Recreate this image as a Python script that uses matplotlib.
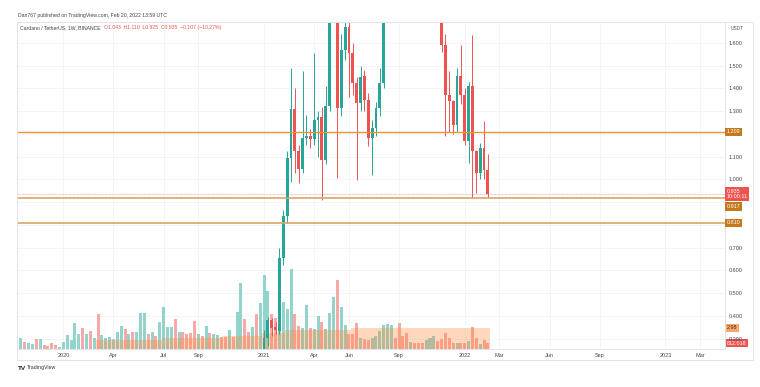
#%% Import Libraries
import numpy as np
import pandas as pd
import matplotlib
matplotlib.use("Agg")
import matplotlib.pyplot as plt
from matplotlib.patches import Rectangle

plt.rcParams['font.family'] = ['Liberation Sans', 'DejaVu Sans']

#%% Data (weekly ADA/USDT, Binance)
start = '2019-10-21'          # first weekly bar shown
candle_start = '2021-01-04'   # first candle that reaches the visible price range

# candles from 2021-01-04 to 2022-02-14
opens = [0.180, 0.303, 0.382, 0.352, 0.334, 0.655, 0.840, 1.094, 1.311, 1.124,
         1.047, 1.182, 1.190, 1.178, 1.260, 1.275, 1.087, 1.324, 1.780, 2.050,
         1.314, 1.569, 1.672, 1.555, 1.424, 1.336, 1.455, 1.349, 1.182, 1.226,
         1.314, 1.424, 2.100, 2.500, 2.800, 2.780, 2.400, 2.350, 2.150, 2.250,
         2.200, 2.170, 2.000, 2.020, 2.050, 2.120, 1.800, 1.593, 1.373, 1.344,
         1.240, 1.455, 1.372, 1.169, 1.410, 1.125, 1.029, 1.139, 1.043]
highs = [0.340, 0.395, 0.390, 0.375, 0.699, 0.866, 1.125, 1.490, 1.400, 1.150,
         1.476, 1.283, 1.220, 1.556, 1.300, 1.320, 1.410, 1.820, 2.300, 2.470,
         1.640, 1.720, 1.700, 1.600, 1.450, 1.500, 1.480, 1.380, 1.260, 1.340,
         1.490, 2.200, 2.600, 2.950, 3.100, 3.050, 2.500, 2.450, 2.300, 2.300,
         2.250, 2.200, 2.100, 2.100, 2.300, 2.150, 1.850, 1.640, 1.476, 1.350,
         1.490, 1.593, 1.400, 1.430, 1.636, 1.130, 1.160, 1.257, 1.110]
lows = [0.170, 0.270, 0.310, 0.320, 0.320, 0.624, 0.810, 0.990, 1.030, 0.985,
        1.030, 1.150, 1.140, 1.150, 1.100, 0.911, 1.070, 1.300, 1.720, 1.006,
        1.280, 1.527, 1.364, 1.373, 0.998, 1.300, 1.300, 1.147, 1.020, 1.190,
        1.280, 1.400, 1.950, 2.450, 2.550, 1.950, 2.200, 1.950, 2.050, 2.100,
        2.100, 1.950, 1.900, 1.950, 1.950, 1.750, 1.560, 1.190, 1.210, 1.200,
        1.210, 1.330, 1.152, 1.073, 0.920, 0.940, 1.000, 1.000, 0.925]
closes = [0.303, 0.382, 0.347, 0.338, 0.655, 0.840, 1.094, 1.311, 1.124, 1.047,
          1.182, 1.190, 1.178, 1.260, 1.275, 1.087, 1.324, 1.780, 2.050, 1.314,
          1.569, 1.672, 1.555, 1.424, 1.336, 1.452, 1.349, 1.182, 1.226, 1.314,
          1.424, 2.100, 2.500, 2.800, 2.780, 2.400, 2.350, 2.150, 2.250, 2.200,
          2.170, 2.000, 2.020, 2.050, 2.120, 1.800, 1.593, 1.373, 1.344, 1.240,
          1.455, 1.372, 1.169, 1.410, 1.125, 1.029, 1.139, 1.042, 0.935]

# weekly volume (millions ADA), 2019-10-21 .. 2022-02-14
volume = [1580, 980, 840, 740, 1440, 1440, 560, 460, 800, 600,
          280, 980, 1920, 1260, 3600, 2140, 2900, 2060, 2520, 1580,
          4860, 1960, 1500, 1720, 1440, 2380, 3220, 2760, 2140, 2380,
          2380, 5080, 5080, 2060, 2420, 1820, 3780, 5920, 3080, 3080,
          4160, 2380, 2380, 2140, 2240, 3920, 2100, 1820, 3220, 2200,
          2140, 1960, 1680, 1680, 2620, 1720, 5180, 9200, 4160, 2420,
          3080, 4860, 6400, 10320, 8120, 4900, 4380, 4200, 6620, 5640,
          11240, 4860, 3220, 2980, 6160, 2980, 2760, 4620, 3820, 2760,
          5000, 7280, 9620, 5880, 3320, 2060, 2060, 3680, 1580, 1360,
          1220, 1580, 1820, 2520, 3360, 3460, 3360, 1580, 3680, 1820,
          2280, 980, 880, 880, 880, 1260, 1580, 1820, 1120, 1400,
          2170, 1540, 880, 880, 880, 880, 1120, 3120, 1540, 740,
          1220, 812]
# up/down colour of the volume bars before the first visible candle
pre_dir = "uduududddd" "uuuuuududu" "duuuuuudud" "uuududuuuu" \
          "duddddudud" "uudduduudd" "udu"

# orange volume overlay (millions), from 2020-03-09 on
overlay_start = '2020-03-09'
overlay = [1250, 1250, 1250, 1250, 1250, 1250, 1250, 1250, 1250, 1250,
           1250, 1250, 1250, 1250, 1250, 1250, 1250, 1500, 1500, 1500,
           1500, 1500, 1500, 1500, 1500, 1500, 1500, 1500, 1500, 1500,
           1500, 1500, 1500, 1850, 1850, 1850, 1850, 1850, 1850, 1850,
           1850, 1850, 1850, 2250, 2250, 2250, 2250, 2250, 2250, 2700,
           2700, 2700, 2700, 2700, 2700, 2700, 2700, 2700, 2700, 2700,
           2700, 2700, 2700, 2700, 2700, 2700, 2980, 2980, 2980, 2980,
           2980, 2980, 2980, 2980, 2980, 2980, 2980, 2980, 2980, 2980,
           2980, 2980, 2980, 2980, 2980, 2980, 2980, 2980, 2980, 2980,
           2980, 2980, 2980, 2980, 2980, 2980, 2980, 2980, 2980, 2980,
           2980, 2980]

levels = [1.209, 0.917, 0.810]
last_price = 0.935

tick_dates = ['2020-01-06', '2020-04-06', '2020-07-06', '2020-09-07', '2021-01-04',
              '2021-04-05', '2021-06-07', '2021-09-06', '2022-01-03', '2022-03-07',
              '2022-06-06', '2022-09-05', '2023-01-02', '2023-03-06']
tick_labels = ['2020', 'Apr', 'Jul', 'Sep', '2021', 'Apr', 'Jun', 'Sep', '2022', 'Mar',
               'Jun', 'Sep', '2023', 'Mar']
price_ticks = [0.3, 0.4, 0.5, 0.6, 0.7, 1.0, 1.1, 1.3, 1.4, 1.5, 1.6]
grid_prices = [0.3, 0.4, 0.5, 0.6, 0.7, 0.8, 0.9, 1.0, 1.1, 1.2, 1.3, 1.4, 1.5, 1.6]

#%% helpers
t0 = pd.Timestamp(start)
def week_idx(d):
    return (pd.Timestamp(d) - t0).days / 7

UP, DOWN = '#26a69a', '#ef5350'
UP_VOL, DOWN_VOL = '#92d3cc', '#f7a9a7'

k0 = int(week_idx(candle_start))
xc = k0 + np.arange(len(closes))
o, h, l, c = map(np.array, (opens, highs, lows, closes))
c_up = c >= o
up_all = [ch == 'u' for ch in pre_dir] + list(c_up)
xv = np.arange(len(volume))

#%% figure
fig = plt.figure(figsize=(7.6, 3.87), dpi=100)
W, H = 760, 387
rect = [17 / W, 1 - 349 / H, (724.5 - 17) / W, (349 - 21.7) / H]
ax_bg = fig.add_axes(rect)
ax_vol = fig.add_axes(rect, sharex=ax_bg)
ax = fig.add_axes(rect, sharex=ax_bg)
for a in (ax_vol, ax):
    a.patch.set_visible(False)

ylo, yhi = 0.2549, 1.6936
ax_bg.set_ylim(ylo, yhi)
ax.set_ylim(ylo, yhi)
ax_vol.set_ylim(0, 45800)
ax.set_xlim(-1.0, 182.3)

# grid
tick_pos = [week_idx(d) for d in tick_dates]
for p in grid_prices:
    ax_bg.axhline(p, color='#f0f3fa', lw=0.6, zorder=0)
for t in tick_pos:
    ax_bg.axvline(t, color='#f0f3fa', lw=0.6, zorder=0)

# volume + overlay
ax_vol.bar(xv, volume, width=0.78, color=[UP_VOL if u else DOWN_VOL for u in up_all],
           linewidth=0, zorder=1)
xo = week_idx(overlay_start) + np.arange(len(overlay))
ax_vol.bar(xo, overlay, width=1.0, color='#ff8a3a', alpha=0.33, linewidth=0, zorder=2)

# candles
cols = [UP if u else DOWN for u in c_up]
ax.vlines(xc, l, h, colors=cols, lw=0.7, zorder=3)
ax.bar(xc, np.maximum(np.abs(c - o), 0.004), bottom=np.minimum(o, c), width=0.74,
       color=cols, linewidth=0, zorder=4)

# horizontal levels
ax.axhline(levels[0], color='#e8923a', lw=1.0, zorder=5)
for lv in levels[1:]:
    ax.axhline(lv, color='#d8a764', lw=1.2, zorder=5)
ax.axhline(last_price, color=DOWN, lw=0.5, ls=(0, (1, 1)), alpha=0.7, zorder=5)

# axes styling
for a in (ax_bg, ax_vol):
    a.tick_params(left=False, right=False, bottom=False, top=False,
                  labelleft=False, labelbottom=False)
    for s in a.spines.values():
        s.set_visible(False)
ax.spines['top'].set_visible(False)
ax.spines['left'].set_visible(False)
for s in ('right', 'bottom'):
    ax.spines[s].set_color('#e0e3eb')
    ax.spines[s].set_linewidth(0.7)

ax.set_xticks(tick_pos)
ax.set_xticklabels(tick_labels)
ax.tick_params(axis='x', length=0, pad=2.6, labelsize=4.0, labelcolor='#4a4a4a')
ax.yaxis.tick_right()
ax.set_yticks(price_ticks)
ax.set_yticklabels(['%.3f' % p for p in price_ticks])
ax.tick_params(axis='y', length=0, pad=3.0, labelsize=4.0, labelcolor='#4a4a4a')

# price-scale labels
def scale_label(a, y, text, bg, fg='white', dy=0):
    a.annotate(text, xy=(1, y), xycoords=('axes fraction', 'data'),
               xytext=(1.6, dy), textcoords='offset points', ha='left', va='center',
               fontsize=3.9, color=fg, linespacing=1.1, annotation_clip=False, zorder=10,
               bbox=dict(boxstyle='square,pad=0.3', fc=bg, ec='none'))

scale_label(ax, levels[0], '%.3f' % levels[0], '#c47a1c')
scale_label(ax, levels[2], '%.3f' % levels[2], '#c47a1c')
scale_label(ax, levels[1], '%.3f' % levels[1], '#c47a1c', dy=-5.8)
scale_label(ax, last_price, '%.3f\n10:00:11' % last_price, DOWN)
scale_label(ax_vol, overlay[-1], '%.2f' % (overlay[-1] / 1000), '#f9a66a', fg='#3a2a1a')
scale_label(ax_vol, volume[-1], '812.018', DOWN)

# container frame and texts
fig.patches.append(Rectangle((17 / W, 1 - 360 / H), (753 - 17) / W, (360 - 21.7) / H,
                             transform=fig.transFigure, fill=False, ec='#e0e3eb', lw=0.7))
fig.text(737 / W, 1 - 28.5 / H, 'USDT', fontsize=3.5, color='#555', ha='center', va='center')
fig.text(18 / W, 1 - 16 / H, 'Dan767 published on TradingView.com, Feb 20, 2022 13:59 UTC',
         fontsize=3.7, color='#444', va='center')
fig.text(20 / W, 1 - 28 / H, 'Cardano / TetherUS, 1W, BINANCE', fontsize=3.7,
         color='#444', va='center')
fig.text(104 / W, 1 - 28 / H, 'O1.043  H1.110  L0.925  C0.935  \u22120.107 (\u221210.27%)',
         fontsize=3.7, color=DOWN, va='center')
fig.text(18 / W, 1 - 368 / H, 'TV', fontsize=4.6, fontweight='bold', color='#131722',
         va='center')
fig.text(27 / W, 1 - 368 / H, 'TradingView', fontsize=3.8, color='#333', va='center')

fig.savefig('out.png', dpi=100)
